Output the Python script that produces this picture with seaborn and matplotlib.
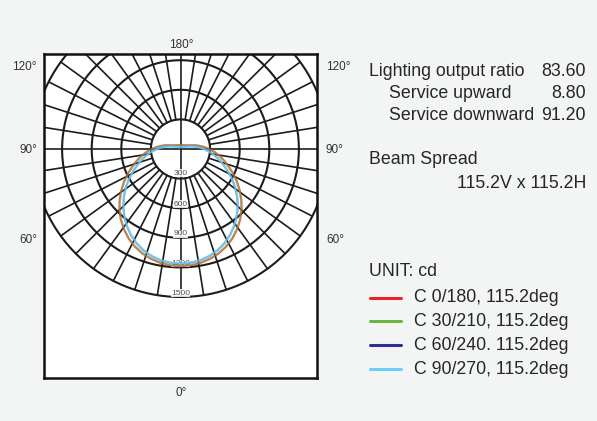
import numpy as np
import pandas as pd
import matplotlib
matplotlib.use("Agg")
import matplotlib.pyplot as plt
from matplotlib.lines import Line2D
import seaborn as sns

# ---------------- data ----------------
gamma = [0, 5, 10, 15, 20, 25, 30, 35, 40, 45, 50, 55, 60, 65, 70, 75, 80, 85, 90,
         95, 100, 105, 110, 115, 120, 125, 130, 135, 140, 145, 150, 155, 160, 165, 170, 175, 180]
c0_180 = [1188, 1184, 1173, 1154, 1128, 1093, 1050, 998, 940, 876, 806, 734, 661, 589, 520, 459, 403, 347, 292,
          240, 192, 149, 112, 90, 76, 66, 59, 55, 51, 48, 46, 44, 43, 42, 41, 41, 41]
c30_210 = [1183, 1179, 1168, 1149, 1123, 1088, 1045, 993, 935, 871, 801, 729, 656, 584, 515, 454, 398, 342, 287,
           235, 187, 145, 108, 86, 72, 63, 56, 52, 49, 47, 45, 43, 42, 41, 40, 40, 40]
c60_240 = [1162, 1158, 1146, 1125, 1094, 1055, 1006, 950, 888, 821, 750, 676, 602, 530, 462, 402, 346, 292, 240,
           190, 144, 106, 77, 58, 45, 37, 31, 27, 25, 23, 22, 21, 20, 20, 20, 20, 20]
c90_270 = [1160, 1156, 1144, 1123, 1092, 1053, 1004, 948, 886, 819, 748, 674, 600, 528, 460, 400, 344, 290, 238,
           188, 142, 104, 75, 56, 44, 36, 30, 26, 24, 22, 21, 20, 19, 19, 19, 19, 19]
plane_labels = ["C 0/180, 115.2deg", "C 30/210, 115.2deg", "C 60/240. 115.2deg", "C 90/270, 115.2deg"]
plane_colors = ["#e8232a", "#6db33f", "#2e3192", "#6dcff6"]
plane_alpha = [0.7, 0.5, 0.5, 0.8]
rings = [300, 600, 900, 1200, 1500]
ring_labels = ["300", "600", "900", "1200", "1500"]
radial_step = 9
angle_labels_left = ["120°", "90°", "60°"]
angle_labels_y = [67, 150, 240]
info_left = ["Lighting output ratio", "Service upward", "Service downward"]
info_right = ["83.60", "8.80", "91.20"]
beam_title = "Beam Spread"
beam_value = "115.2V x 115.2H"
unit_text = "UNIT: cd"

# ---------------- style ----------------
sns.set_theme(style="white")
plt.rcParams["font.family"] = ["Liberation Sans", "DejaVu Sans"]

W, H = 597, 421
fig = plt.figure(figsize=(W / 100, H / 100), dpi=100)
bg = "#f3f5f5"
fig.patch.set_facecolor(bg)

# axes box in pixels
bx0, bx1, by0, by1 = 44, 317, 54, 378
cx, cy = 180.5, 149.0
scale = 1500 / 148.0  # cd per pixel
ax = fig.add_axes([bx0 / W, (H - by1) / H, (bx1 - bx0) / W, (by1 - by0) / H])
ax.set_facecolor("white")
ax.set_xlim((bx0 - cx) * scale, (bx1 - cx) * scale)
ax.set_ylim(-(by1 - cy) * scale, (cy - by0) * scale)
ax.set_xticks([])
ax.set_yticks([])
for s in ax.spines.values():
    s.set_visible(True)
    s.set_color("#111111")
    s.set_linewidth(1.8)

gc = "#1c1c1c"
# rings
t = np.linspace(0, 2 * np.pi, 400)
for r in rings:
    ax.plot(r * np.cos(t), r * np.sin(t), color=gc, lw=1.5, zorder=2)
# radial lines
rin, rout = rings[0], rings[-1]
for a in range(0, 360, radial_step):
    if a % 90 == 0:
        continue
    ar = np.deg2rad(a)
    ax.plot([rin * np.sin(ar), rout * np.sin(ar)], [-rin * np.cos(ar), -rout * np.cos(ar)],
            color=gc, lw=1.2, zorder=2)
# main axes lines
ylim = ax.get_ylim()
xlim = ax.get_xlim()
ax.plot([0, 0], [-rout, ylim[1]], color=gc, lw=1.2, zorder=2)
ax.plot([xlim[0], xlim[1]], [0, 0], color=gc, lw=1.2, zorder=2)

# ring labels
for r, lab in zip(rings, ring_labels):
    off = 55 if r == rings[0] else 40
    ax.text(0, -(r - off), lab, ha="center", va="center", fontsize=6, color="#555555",
            zorder=3, bbox=dict(facecolor="white", edgecolor="none", pad=0.3, alpha=0.85))

# curves
g = np.array(gamma, dtype=float)
for vals, col, al, lab in zip([c0_180, c30_210, c60_240, c90_270], plane_colors, plane_alpha, plane_labels):
    v = np.array(vals, dtype=float)
    gg = np.concatenate([-g[::-1], g[1:]])
    vv = np.concatenate([v[::-1], v[1:]])
    rad = np.deg2rad(gg)
    df = pd.DataFrame({"x": vv * np.sin(rad), "y": -vv * np.cos(rad)})
    sns.lineplot(data=df, x="x", y="y", sort=False, estimator=None, color=col, alpha=al,
                 lw=1.5, ax=ax, zorder=4)
ax.set_xlabel("")
ax.set_ylabel("")

def px(x, y):
    return x / W, 1 - y / H

# angle labels
afs = 8.5
ac = "#333333"
fig.text(*px(181, 45), "180°", ha="center", va="center", fontsize=afs, color=ac)
fig.text(*px(181, 393), "0°", ha="center", va="center", fontsize=afs, color=ac)
for lab, yy in zip(angle_labels_left, angle_labels_y):
    fig.text(*px(37, yy), lab, ha="right", va="center", fontsize=afs, color=ac)
    fig.text(*px(326, yy), lab, ha="left", va="center", fontsize=afs, color=ac)

# info text
tc = "#262626"
fs = 12.8
ys = [72, 94, 115]
xs = [369, 389, 389]
for l, rr, x0, yy in zip(info_left, info_right, xs, ys):
    fig.text(*px(x0, yy), l, ha="left", va="center", fontsize=fs, color=tc)
    fig.text(*px(586, yy), rr, ha="right", va="center", fontsize=fs, color=tc)
fig.text(*px(369, 160), beam_title, ha="left", va="center", fontsize=fs, color=tc)
fig.text(*px(586, 184), beam_value, ha="right", va="center", fontsize=fs, color=tc)
fig.text(*px(369, 272), unit_text, ha="left", va="center", fontsize=fs, color=tc)

# legend
leg_y = [298, 321, 345, 369]
for lab, col, yy in zip(plane_labels, plane_colors, leg_y):
    fig.add_artist(Line2D([370 / W, 401 / W], [1 - yy / H, 1 - yy / H], color=col, lw=2.2,
                          transform=fig.transFigure))
    fig.text(*px(414, yy), lab, ha="left", va="center", fontsize=fs, color=tc)

fig.savefig("out.png", dpi=100, facecolor=bg)
